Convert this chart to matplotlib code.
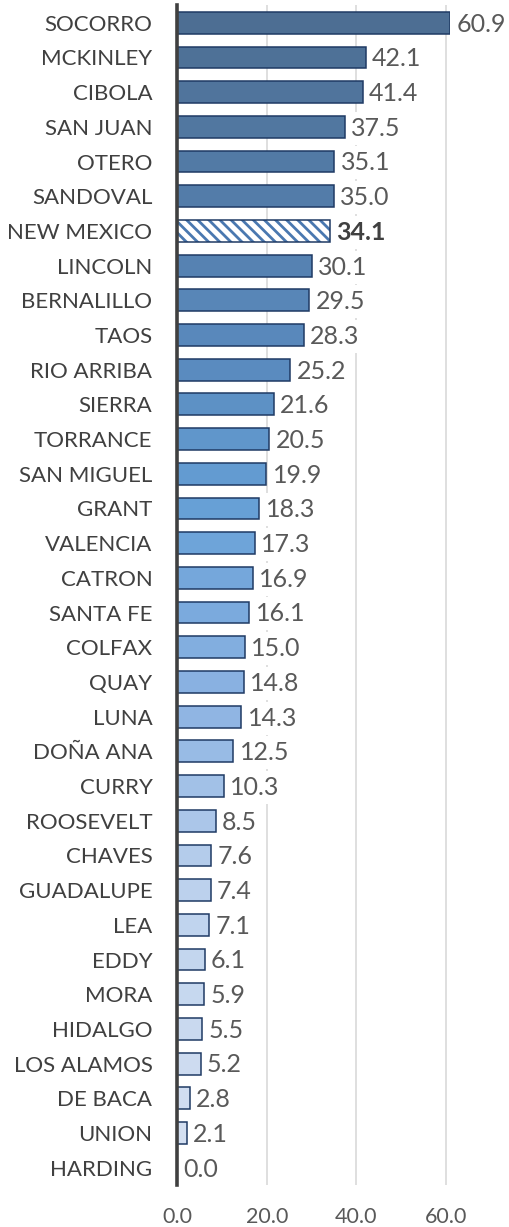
import numpy as np
import matplotlib
matplotlib.use('Agg')
import matplotlib.pyplot as plt
from matplotlib.colors import LinearSegmentedColormap

counties = ['SOCORRO', 'MCKINLEY', 'CIBOLA', 'SAN JUAN', 'OTERO', 'SANDOVAL',
            'NEW MEXICO', 'LINCOLN', 'BERNALILLO', 'TAOS', 'RIO ARRIBA', 'SIERRA',
            'TORRANCE', 'SAN MIGUEL', 'GRANT', 'VALENCIA', 'CATRON', 'SANTA FE',
            'COLFAX', 'QUAY', 'LUNA', 'DOÑA ANA', 'CURRY', 'ROOSEVELT', 'CHAVES',
            'GUADALUPE', 'LEA', 'EDDY', 'MORA', 'HIDALGO', 'LOS ALAMOS', 'DE BACA',
            'UNION', 'HARDING']
values = [60.9, 42.1, 41.4, 37.5, 35.1, 35.0, 34.1, 30.1, 29.5, 28.3, 25.2, 21.6,
          20.5, 19.9, 18.3, 17.3, 16.9, 16.1, 15.0, 14.8, 14.3, 12.5, 10.3, 8.5,
          7.6, 7.4, 7.1, 6.1, 5.9, 5.5, 5.2, 2.8, 2.1, 0.0]
state = 'NEW MEXICO'
xticks = [0, 20, 40, 60]

plt.rcParams['font.family'] = ['Lato', 'DejaVu Sans']
plt.rcParams['hatch.linewidth'] = 2.0

cmap = LinearSegmentedColormap.from_list('nm', [
    (0.0, '#4d6e93'), (0.3, '#5a8bbf'), (0.42, '#66a0d6'),
    (0.6, '#8eb4e3'), (0.76, '#bdd2ed'), (1.0, '#d6e1f2')])

n = len(counties)
y = np.arange(n)

fig = plt.figure(figsize=(5.10, 12.27), dpi=100)
ax = fig.add_axes([0.348, 0.0342, 0.535, 0.9614])

for i in range(n):
    if counties[i] == state:
        # hatch in mid blue, outline drawn separately in navy
        ax.barh(y[i], values[i], height=0.63, color='white', edgecolor='#4a78b0',
                linewidth=0, hatch='\\\\\\', zorder=3)
        ax.barh(y[i], values[i], height=0.63, fill=False, edgecolor='#1f3a64',
                linewidth=1.1, zorder=3)
    else:
        ax.barh(y[i], values[i], height=0.63, color=cmap(i / (n - 1)),
                edgecolor='#1f3a64', linewidth=1.1, zorder=3)
    bold = counties[i] == state
    ax.annotate('%.1f' % values[i], (values[i], y[i]), xytext=(4.5, -1),
                textcoords='offset points', ha='left', va='center',
                fontsize=18, color='#404040' if bold else '#595959',
                fontweight='bold' if bold else 'normal', annotation_clip=False,
                bbox=dict(boxstyle='square,pad=0.2', fc='white', ec='none'), zorder=4)

ax.set_xlim(0, 61)
ax.set_ylim(n - 0.5, -0.5)
ax.set_yticks(y)
ax.set_yticklabels(counties, fontsize=16, color='#404040')
ax.set_xticks(xticks)
ax.set_xticklabels(['%.1f' % t for t in xticks], fontsize=15.5, color='#595959')
ax.tick_params(axis='both', length=0)
ax.tick_params(axis='y', pad=18)
ax.tick_params(axis='x', pad=16)

ax.grid(axis='x', color='#d9d9d9', linewidth=1.2, zorder=0)
ax.set_axisbelow(True)
for s in ['top', 'right', 'bottom']:
    ax.spines[s].set_visible(False)
ax.spines['left'].set_color('#404040')
ax.spines['left'].set_linewidth(2.6)
ax.spines['left'].set_zorder(5)

fig.savefig('out.png', dpi=100)
